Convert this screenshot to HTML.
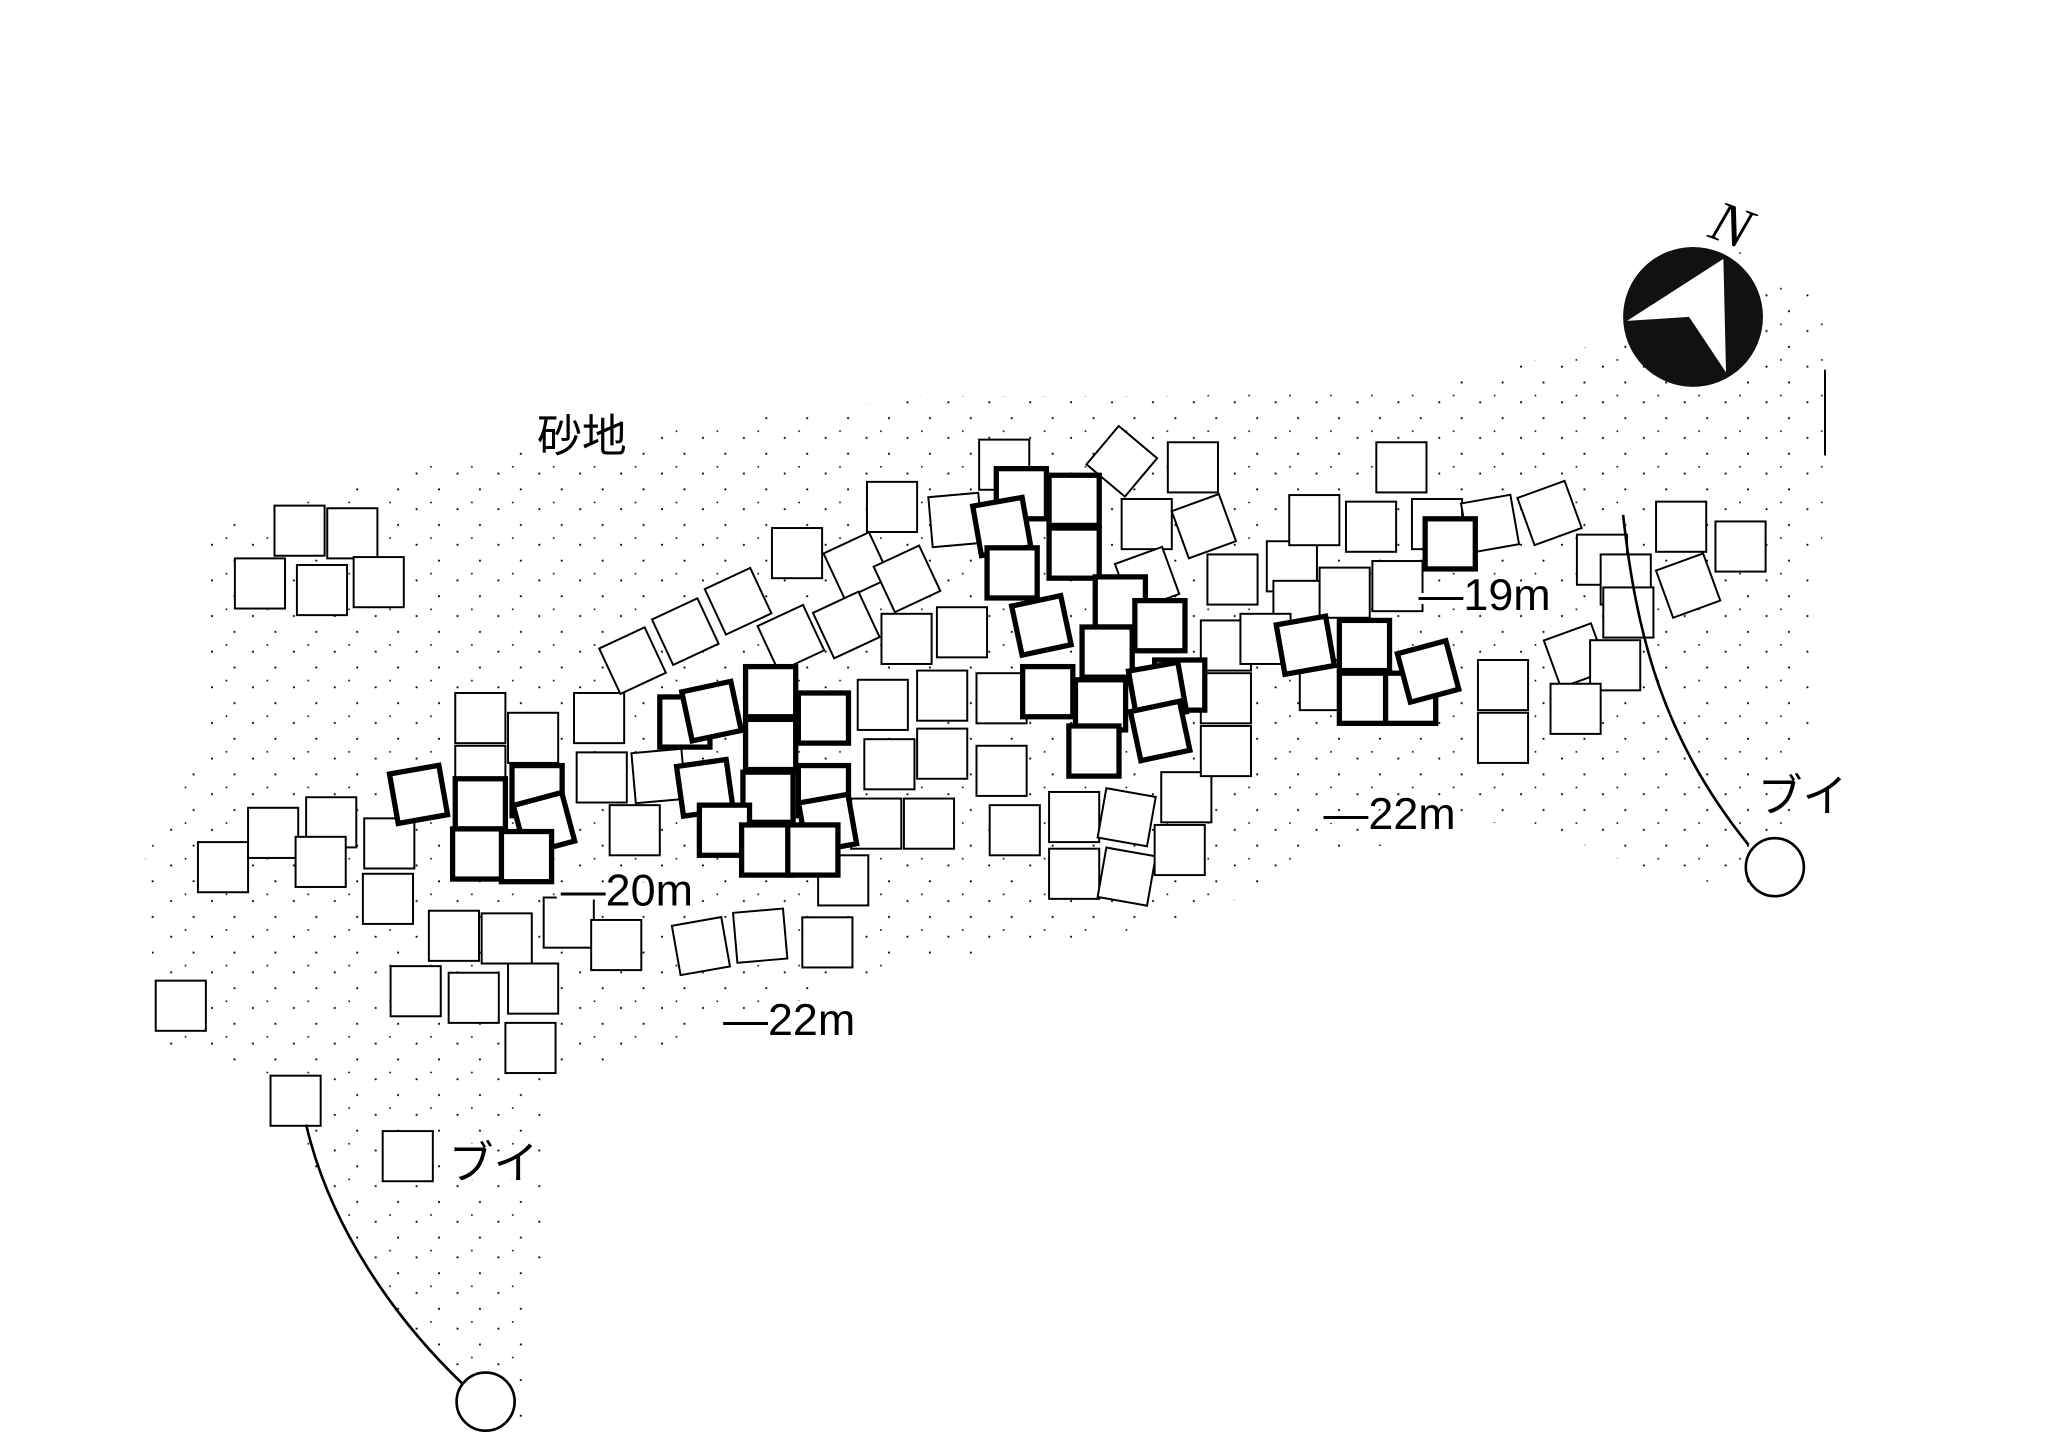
<!DOCTYPE html>
<html><head><meta charset="utf-8"><style>html,body{margin:0;padding:0;background:#fff}svg{display:block}
.l rect{fill:#fff;stroke:#000;stroke-width:1.5}
.h rect{fill:#fff;stroke:#000;stroke-width:4}
</style></head>
<body>
<svg width="2048" height="1448" viewBox="0 0 1552 1097" xmlns="http://www.w3.org/2000/svg">
<defs>
<pattern id="st2" width="31" height="27" patternUnits="userSpaceOnUse">
<rect x="5" y="7" width="1.4" height="1.4" fill="#000"/>
<rect x="22" y="19" width="1.4" height="1.4" fill="#000"/>
<rect x="16" y="2" width="1.2" height="1.2" fill="#000"/>
</pattern>
</defs>
<polygon fill="url(#st2)" points="150,400 300,355 500,325 700,300 900,300 1100,290 1250,250 1300,180 1385,230 1385,350 1370,560 1360,680 1250,660 1150,620 1000,650 900,700 700,730 600,760 420,820 400,1080 300,1000 200,820 120,790 110,650 160,560 150,470"/>
<g class="l">
<rect x="208" y="383" width="38" height="38"/><rect x="248" y="385" width="38" height="38"/><rect x="178" y="423" width="38" height="38"/><rect x="225" y="428" width="38" height="38"/><rect x="268" y="422" width="38" height="38"/>
<rect x="150" y="638" width="38" height="38"/><rect x="188" y="612" width="38" height="38"/><rect x="232" y="604" width="38" height="38"/><rect x="224" y="634" width="38" height="38"/><rect x="276" y="620" width="38" height="38"/><rect x="275" y="662" width="38" height="38"/><rect x="118" y="743" width="38" height="38"/><rect x="205" y="815" width="38" height="38"/><rect x="290" y="857" width="38" height="38"/>
<rect x="345" y="525" width="38" height="38"/><rect x="385" y="540" width="38" height="38"/><rect x="345" y="565" width="38" height="38"/><rect x="325" y="690" width="38" height="38"/><rect x="365" y="692" width="38" height="38"/><rect x="296" y="732" width="38" height="38"/><rect x="340" y="737" width="38" height="38"/><rect x="385" y="730" width="38" height="38"/><rect x="383" y="775" width="38" height="38"/><rect x="412" y="680" width="38" height="38"/><rect x="448" y="697" width="38" height="38"/><rect x="512" y="698" width="38" height="38" transform="rotate(-10 530 716)"/><rect x="557" y="690" width="38" height="38" transform="rotate(-5 575 708)"/><rect x="608" y="695" width="38" height="38"/>
<rect x="435" y="525" width="38" height="38"/><rect x="437" y="570" width="38" height="38"/><rect x="462" y="610" width="38" height="38"/><rect x="480" y="569" width="38" height="38" transform="rotate(-5 498 587)"/><rect x="460" y="482" width="38" height="38" transform="rotate(-25 478 500)"/><rect x="500" y="460" width="38" height="38" transform="rotate(-25 518 478)"/><rect x="540" y="437" width="38" height="38" transform="rotate(-25 558 455)"/><rect x="580" y="465" width="38" height="38" transform="rotate(-25 598 483)"/><rect x="585" y="400" width="38" height="38"/><rect x="630" y="410" width="38" height="38" transform="rotate(-25 648 428)"/><rect x="668" y="420" width="38" height="38" transform="rotate(-25 686 438)"/><rect x="622" y="455" width="38" height="38" transform="rotate(-25 640 473)"/><rect x="657" y="365" width="38" height="38"/><rect x="668" y="465" width="38" height="38"/><rect x="650" y="515" width="38" height="38"/><rect x="695" y="508" width="38" height="38"/><rect x="655" y="560" width="38" height="38"/><rect x="695" y="552" width="38" height="38"/><rect x="685" y="605" width="38" height="38"/><rect x="645" y="605" width="38" height="38"/><rect x="620" y="648" width="38" height="38"/>
<rect x="742" y="333" width="38" height="38"/><rect x="705" y="375" width="38" height="38" transform="rotate(-5 723 393)"/><rect x="832" y="330" width="38" height="38" transform="rotate(40 850 348)"/><rect x="885" y="335" width="38" height="38"/><rect x="850" y="378" width="38" height="38"/><rect x="893" y="380" width="38" height="38" transform="rotate(-20 911 398)"/><rect x="915" y="420" width="38" height="38"/><rect x="850" y="420" width="38" height="38" transform="rotate(-20 868 438)"/><rect x="710" y="460" width="38" height="38"/><rect x="740" y="510" width="38" height="38"/><rect x="740" y="565" width="38" height="38"/><rect x="750" y="610" width="38" height="38"/><rect x="795" y="600" width="38" height="38"/><rect x="835" y="600" width="38" height="38" transform="rotate(10 853 618)"/><rect x="795" y="643" width="38" height="38"/><rect x="835" y="645" width="38" height="38" transform="rotate(10 853 663)"/><rect x="880" y="585" width="38" height="38"/><rect x="875" y="625" width="38" height="38"/><rect x="910" y="550" width="38" height="38"/><rect x="910" y="510" width="38" height="38"/>
<rect x="960" y="410" width="38" height="38"/><rect x="977" y="375" width="38" height="38"/><rect x="1020" y="380" width="38" height="38"/><rect x="1043" y="335" width="38" height="38"/><rect x="1070" y="378" width="38" height="38"/><rect x="1110" y="378" width="38" height="38" transform="rotate(-10 1128 396)"/><rect x="1155" y="370" width="38" height="38" transform="rotate(-20 1173 388)"/><rect x="1195" y="405" width="38" height="38"/><rect x="1213" y="420" width="38" height="38"/><rect x="1255" y="380" width="38" height="38"/><rect x="1300" y="395" width="38" height="38"/><rect x="1260" y="425" width="38" height="38" transform="rotate(-20 1278 443)"/><rect x="1215" y="445" width="38" height="38"/><rect x="1175" y="478" width="38" height="38" transform="rotate(-20 1193 496)"/><rect x="1120" y="500" width="38" height="38"/><rect x="1120" y="540" width="38" height="38"/><rect x="1205" y="485" width="38" height="38"/><rect x="1175" y="518" width="38" height="38"/><rect x="965" y="440" width="38" height="38"/><rect x="1000" y="430" width="38" height="38"/><rect x="1040" y="425" width="38" height="38"/><rect x="985" y="500" width="38" height="38"/><rect x="910" y="470" width="38" height="38"/><rect x="940" y="465" width="38" height="38"/>
</g>
<g class="h">
<rect x="298" y="583" width="38" height="38" transform="rotate(-10 316 601)"/><rect x="345" y="590" width="38" height="38"/><rect x="388" y="580" width="38" height="38"/><rect x="393" y="605" width="38" height="38" transform="rotate(-15 411 623)"/><rect x="343" y="628" width="38" height="38"/><rect x="380" y="630" width="38" height="38"/>
<rect x="500" y="528" width="38" height="38"/><rect x="520" y="520" width="38" height="38" transform="rotate(-12 538 538)"/><rect x="565" y="505" width="38" height="38"/><rect x="565" y="545" width="38" height="38"/><rect x="605" y="525" width="38" height="38"/><rect x="515" y="578" width="38" height="38" transform="rotate(-8 533 596)"/><rect x="563" y="585" width="38" height="38"/><rect x="605" y="580" width="38" height="38"/><rect x="608" y="605" width="38" height="38" transform="rotate(-10 626 623)"/><rect x="530" y="610" width="38" height="38"/><rect x="562" y="625" width="38" height="38"/><rect x="597" y="625" width="38" height="38"/>
<rect x="755" y="355" width="38" height="38"/><rect x="795" y="360" width="38" height="38"/><rect x="740" y="380" width="38" height="38" transform="rotate(-10 758 398)"/><rect x="748" y="415" width="38" height="38"/><rect x="795" y="400" width="38" height="38"/><rect x="830" y="437" width="38" height="38"/><rect x="770" y="455" width="38" height="38" transform="rotate(-12 788 473)"/><rect x="820" y="475" width="38" height="38"/><rect x="860" y="455" width="38" height="38"/><rect x="875" y="500" width="38" height="38"/><rect x="775" y="505" width="38" height="38"/><rect x="815" y="515" width="38" height="38"/><rect x="858" y="505" width="38" height="38" transform="rotate(-10 876 523)"/><rect x="810" y="550" width="38" height="38"/><rect x="860" y="535" width="38" height="38" transform="rotate(-12 878 553)"/>
<rect x="1080" y="393" width="38" height="38"/><rect x="970" y="470" width="38" height="38" transform="rotate(-10 988 488)"/><rect x="1015" y="470" width="38" height="38"/><rect x="1015" y="510" width="38" height="38"/><rect x="1050" y="510" width="38" height="38"/><rect x="1063" y="490" width="38" height="38" transform="rotate(-15 1081 508)"/>
</g>
<g fill="none" stroke="#000" stroke-width="2">
<path d="M1230,390 C1240,480 1260,560 1325,640"/>
<circle cx="1345" cy="657" r="22" fill="#fff"/>
<path d="M232,852 C250,930 300,1000 350,1048"/>
<circle cx="368" cy="1062" r="22" fill="#fff"/>
<line x1="1383" y1="280" x2="1383" y2="345" stroke-width="1.5"/>
</g>
<circle cx="1283" cy="240" r="53" fill="#111"/>
<polygon points="1306,196 1233,243 1280,240 1308,282" fill="#fff"/>
<text x="1297" y="186" font-family="Liberation Serif,serif" font-style="italic" font-size="44" transform="rotate(20 1315 172)">N</text>
<g font-family="Liberation Sans,'Noto Sans CJK JP',sans-serif" font-size="34" fill="#000" stroke="#fff" stroke-width="6" paint-order="stroke">
<text x="407" y="342">砂地</text>
<text x="1075" y="462">—19m</text>
<text x="425" y="686">—20m</text>
<text x="548" y="784">—22m</text>
<text x="1003" y="628">—22m</text>
<text x="340" y="893">ブイ</text>
<text x="1332" y="615">ブイ</text>
</g>
</svg>
</body></html>
